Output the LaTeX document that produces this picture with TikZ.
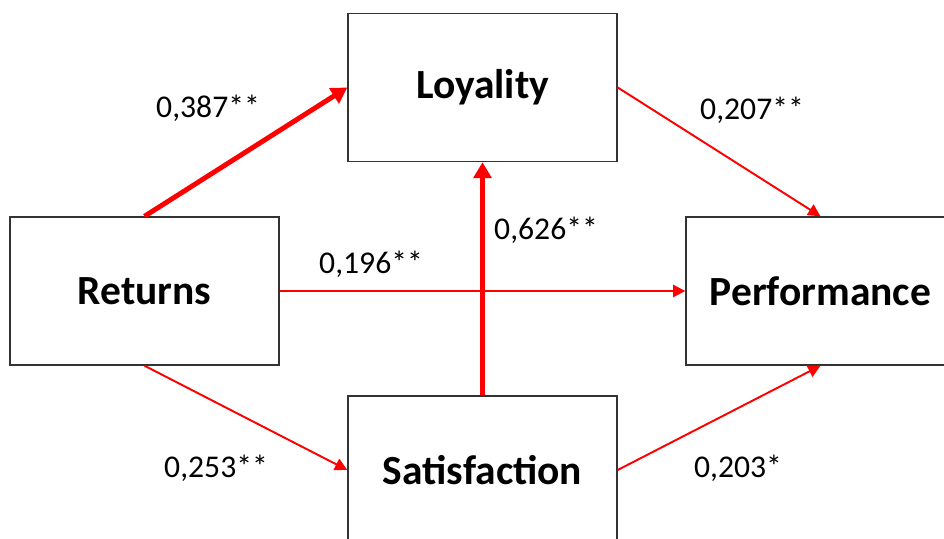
\documentclass[tikz,border=0pt]{standalone}
\usepackage{fontspec}
\setmainfont{Carlito}
\usetikzlibrary{arrows.meta}

\begin{document}
\begin{tikzpicture}[x=1cm,y=1cm]
    \tikzstyle{construct}=[draw=black!80,line width=0.8pt,minimum width=5.38cm,minimum height=2.96cm,inner sep=0pt,font=\fontsize{23.6}{26}\selectfont\bfseries]
    \tikzstyle{path}=[draw=red,line width=1.1pt,-{Triangle[length=7pt,width=7pt]}]
    \tikzstyle{strong path}=[path,line width=2.8pt,-{Triangle[length=9pt,width=10pt]}]
    \tikzstyle{coef}=[font=\fontsize{18}{20}\selectfont]

    \clip (0,0) rectangle (18.88,10.78);
    \useasboundingbox (0,0) rectangle (18.88,10.78);

    % the four constructs
    \node[construct] (ret) at (2.89,4.96) {Returns};
    \node[construct] (loy) at (9.65,9.03) {Loyality};
    \node[construct] (perf) at (16.41,4.96) {Performance};
    \node[construct] (sat) at (9.65,1.38) {Satisfaction};

    % paths between constructs
    \draw[strong path] (ret.north) -- (loy.west);
    \draw[path] (loy.east) -- (perf.north);
    \draw[path] (ret.east) -- (perf.west);
    \draw[strong path] (sat.north) -- (loy.south);
    \draw[path] (ret.south) -- (sat.west);
    \draw[path] (sat.east) -- (perf.south);

    % path coefficients
    \node[coef] (c-rl) at (4.16,8.62) {0,387**};
    \node[coef] (c-lp) at (15.04,8.58) {0,207**};
    \node[coef] (c-sl) at (10.92,6.18) {0,626**};
    \node[coef] (c-rp) at (7.42,5.50) {0,196**};
    \node[coef] (c-rs) at (4.32,1.42) {0,253**};
    \node[coef] (c-sp) at (14.76,1.42) {0,203*};
\end{tikzpicture}
\end{document}
